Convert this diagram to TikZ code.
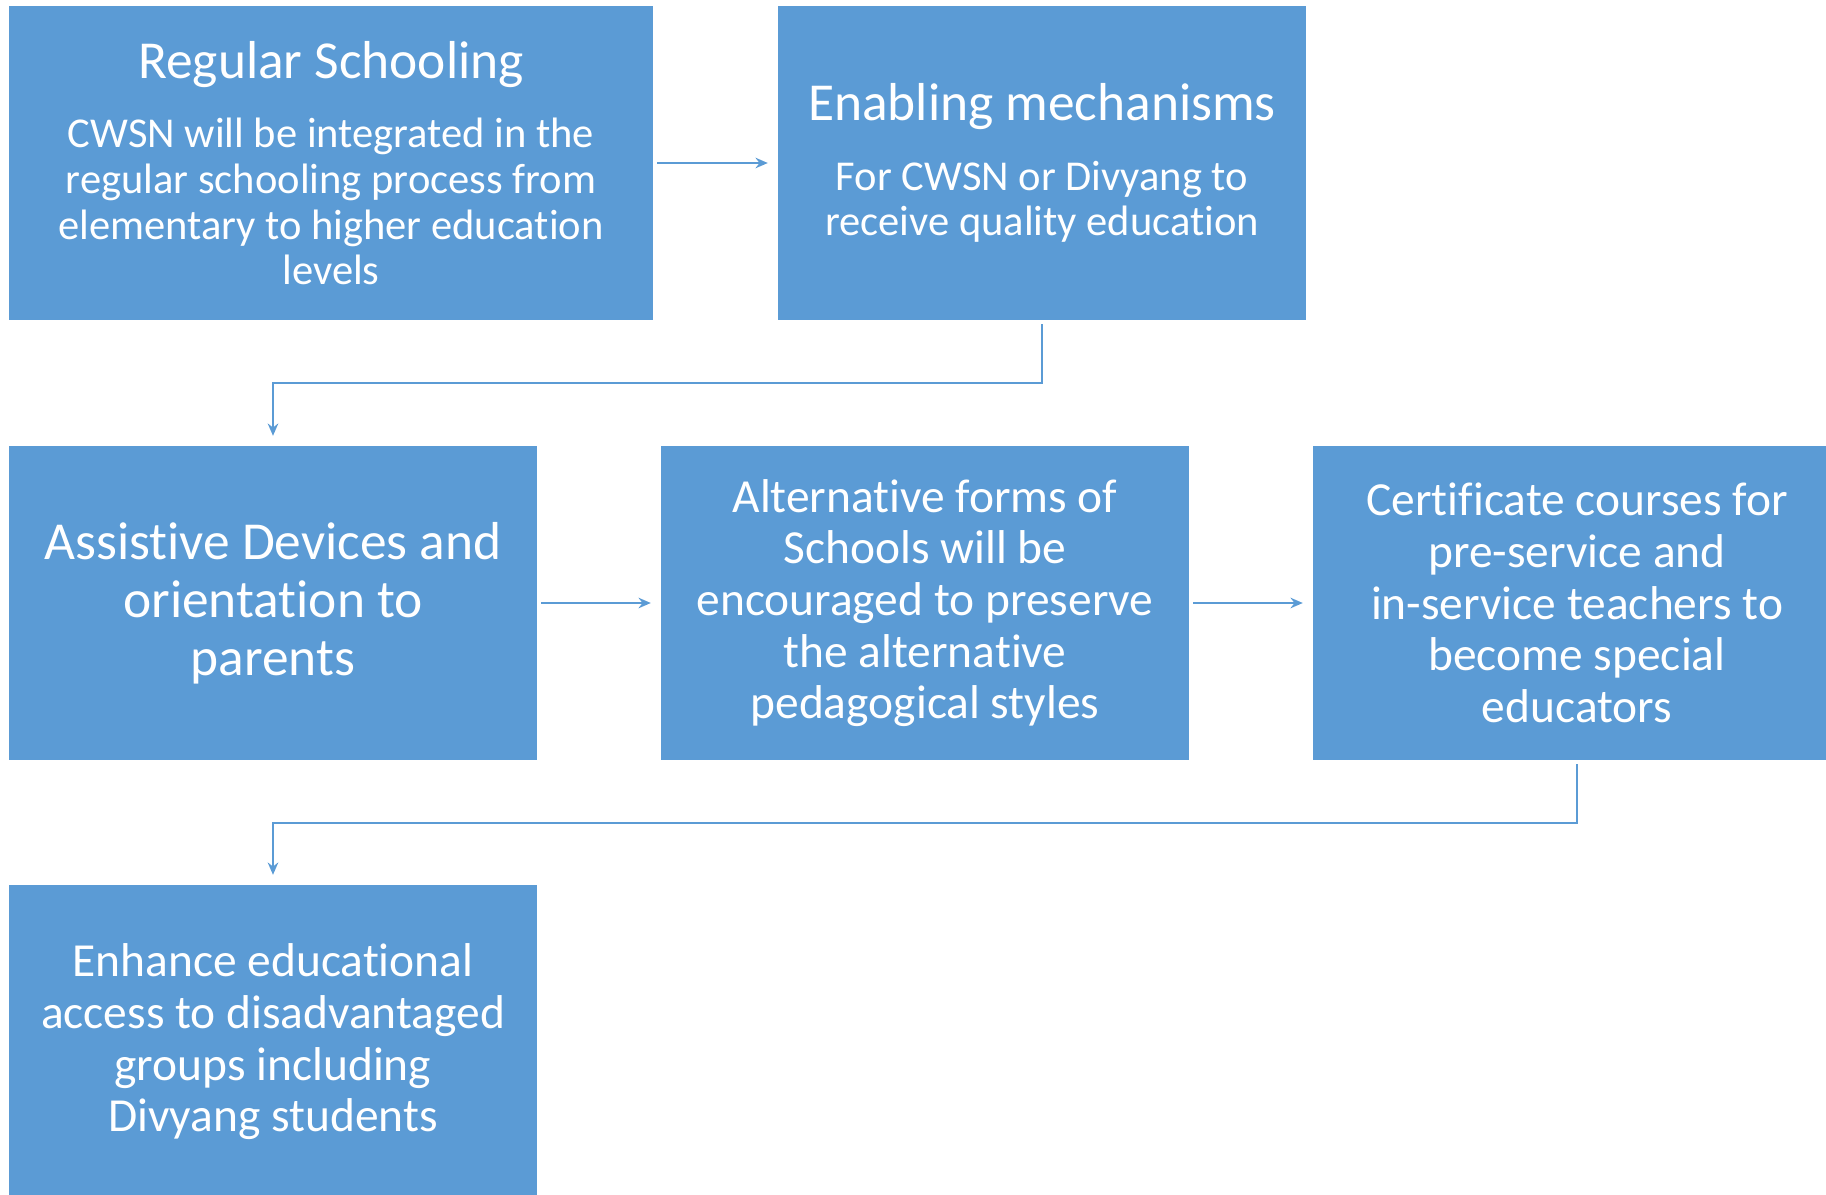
\documentclass[tikz,border=0pt]{standalone}
\usepackage{fontspec}
\setmainfont{Carlito}[Ligatures=NoCommon]
\usetikzlibrary{arrows.meta, positioning}
\definecolor{boxblue}{HTML}{5B9BD5}
\tikzset{
  box/.style={fill=boxblue, text=white, align=center, inner sep=0pt,
    minimum width=5.28cm, minimum height=3.14cm},
  arr/.style={draw=boxblue, line width=0.6pt, -{Stealth[length=3.5pt, width=3pt]},
    shorten <=1pt, shorten >=2.7pt},
  headfont/.style={font=\fontsize{15.2}{16.5}\selectfont},
  smallfont/.style={font=\fontsize{12.1}{13}\selectfont},
  midfont/.style={font=\fontsize{13.5}{14.7}\selectfont},
}
\newcommand{\boxtitle}[1]{{\fontsize{15.2}{16}\selectfont #1}}
\begin{document}
\begin{tikzpicture}
   \useasboundingbox (0,0) rectangle (18.26,-11.95);
   % first row
   \node[box, smallfont, minimum width=6.44cm] (reg) at (3.31,-1.63)
     {\boxtitle{Regular Schooling}\\[6.8pt]
      CWSN will be integrated in the\\ regular schooling process from\\
      elementary to higher education\\ levels};
   \node[box, smallfont] (enab) at (10.42,-1.63)
     {\boxtitle{Enabling mechanisms}\\[6.8pt]
      For CWSN or Divyang to\\ receive quality education};
   % second row
   \node[box, headfont] (assist) at (2.73,-6.03)
     {Assistive Devices and\\ orientation to\\ parents};
   \node[box, midfont] (alt) at (9.25,-6.03)
     {Alternative forms of\\ Schools will be\\ encouraged to preserve\\ the alternative\\ pedagogical styles};
   \node[box, midfont] (cert) at (15.77,-6.03)
     {Certificate courses for\\ pre-service and\\ in-service teachers to\\ become special\\ educators};
   % third row
   \node[box, midfont] (enh) at (2.73,-10.42)
     {Enhance educational\\ access to disadvantaged\\ groups including\\ Divyang students};
   % connectors
   \draw[arr] (reg.east) -- (enab.west);
   \draw[arr] (enab.south) -- ++(0,-0.62) -| (assist.north);
   \draw[arr] (assist.east) -- (alt.west);
   \draw[arr] (alt.east) -- (cert.west);
   \draw[arr] (cert.south) -- ++(0,-0.62) -| (enh.north);
\end{tikzpicture}
\end{document}
